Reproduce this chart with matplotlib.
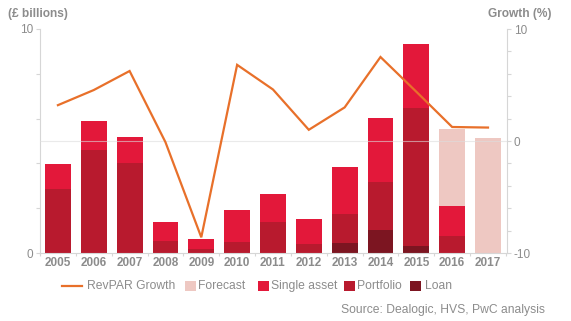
import matplotlib
matplotlib.use("Agg")
import matplotlib.pyplot as plt
from matplotlib.patches import Rectangle
from matplotlib.lines import Line2D
import numpy as np

plt.rcParams['font.family'] = ['Liberation Sans', 'DejaVu Sans']

years = ["2005", "2006", "2007", "2008", "2009", "2010", "2011", "2012",
         "2013", "2014", "2015", "2016", "2017"]
loan = [0.0, 0.0, 0.0, 0.0, 0.0, 0.0, 0.0, 0.0, 0.45, 1.03, 0.31, 0.0, 0.0]
portfolio = [2.86, 4.6, 4.02, 0.54, 0.18, 0.49, 1.38, 0.4, 1.29, 2.14, 6.16, 0.76, 0.0]
single_asset = [1.11, 1.3, 1.16, 0.84, 0.45, 1.43, 1.25, 1.12, 2.1, 2.86, 2.86, 1.34, 0.0]
forecast = [0, 0, 0, 0, 0, 0, 0, 0, 0, 0, 0, 5.54, 5.13]
revpar_growth = [3.2, 4.55, 6.25, -0.1, -8.6, 6.8, 4.6, 1.0, 3.0, 7.5, 4.4, 1.25, 1.2]

C_SINGLE = "#E3183A"
C_PORT = "#B81A2E"
C_LOAN = "#7C1521"
C_FORE = "#EEC8C2"
C_LINE = "#E8702A"
C_TEXT = "#8C8C8C"
C_AXIS = "#D6D6D6"

W, H = 571, 321
fig = plt.figure(figsize=(W / 100, H / 100), dpi=100)
ax = fig.add_axes([40 / W, 1 - 253 / H, (507 - 40) / W, (253 - 29) / H])
ax2 = ax.twinx()

x = np.arange(len(years))
bw = 0.72
loan_a = np.array(loan)
port_a = np.array(portfolio)
sing_a = np.array(single_asset)

ax.bar(x, forecast, bw, color=C_FORE, zorder=1, linewidth=0)
ax.bar(x, loan_a, bw, color=C_LOAN, zorder=2, linewidth=0)
ax.bar(x, port_a, bw, bottom=loan_a, color=C_PORT, zorder=2, linewidth=0)
ax.bar(x, sing_a, bw, bottom=loan_a + port_a, color=C_SINGLE, zorder=2, linewidth=0)

ax.set_xlim(-0.47, 12.53)
ax.set_ylim(0, 10)
ax2.set_ylim(-10, 10)

ax2.axhline(0, color="#DDDDDD", lw=0.8, alpha=0.6, zorder=1)
ax2.plot(x, revpar_growth, color=C_LINE, lw=1.6, zorder=3, solid_joinstyle="miter")

for a in (ax, ax2):
    for s in a.spines.values():
        s.set_visible(False)

ax.spines['left'].set_visible(True)
ax.spines['left'].set_color(C_AXIS)
ax.spines['left'].set_linewidth(0.8)
ax.spines['bottom'].set_visible(True)
ax.spines['bottom'].set_color(C_AXIS)
ax.spines['bottom'].set_linewidth(0.8)
ax2.spines['right'].set_visible(True)
ax2.spines['right'].set_color(C_AXIS)
ax2.spines['right'].set_linewidth(0.8)

ax.set_yticks(np.arange(0, 11, 2))
ax.set_yticklabels(["0", "", "", "", "", "10"])
ax.tick_params(axis='y', length=3, width=0.8, color=C_AXIS, labelcolor=C_TEXT,
               labelsize=8.5, pad=2)

ax2.set_yticks(np.arange(-10, 11, 2))
ax2.set_yticklabels(["-10"] + [""] * 4 + ["0"] + [""] * 4 + ["10"])
ax2.tick_params(axis='y', length=3, width=0.8, color=C_AXIS, labelcolor=C_TEXT,
                labelsize=8.5, pad=2)

ax.set_xticks(x)
ax.set_xticklabels(years, fontweight='bold')
ax.tick_params(axis='x', length=0, labelcolor=C_TEXT, labelsize=8.5, pad=3)
ax.set_xticks(np.arange(-0.5, 12.6, 1), minor=True)
ax.tick_params(axis='x', which='minor', length=2.5, width=0.8, color=C_AXIS)

fig.text(8 / W, 1 - 14 / H, "(£ billions)", color=C_TEXT, fontsize=8.6,
         fontweight='bold', ha='left', va='center')
fig.text(551 / W, 1 - 14 / H, "Growth (%)", color=C_TEXT, fontsize=8.6,
         fontweight='bold', ha='right', va='center')

# legend (drawn manually in figure pixel coordinates)
ly = 1 - 286 / H
fig.add_artist(Line2D([62 / W, 82 / W], [ly, ly], color=C_LINE, lw=1.6))
fig.text(87 / W, ly, "RevPAR Growth", color=C_TEXT, fontsize=8.7, ha='left', va='center')
items = [(185, 198, C_FORE, "Forecast"),
         (258, 271, C_SINGLE, "Single asset"),
         (344, 357, C_PORT, "Portfolio"),
         (410, 425, C_LOAN, "Loan")]
for px, tx, col, lab in items:
    fig.add_artist(Rectangle((px / W, 1 - 291 / H), 11 / W, 10.5 / H,
                             color=col, transform=fig.transFigure, linewidth=0))
    fig.text(tx / W, ly, lab, color=C_TEXT, fontsize=8.7, ha='left', va='center')

fig.text(545 / W, 1 - 310 / H, "Source: Dealogic, HVS, PwC analysis", color=C_TEXT,
         fontsize=8.7, ha='right', va='center')

fig.savefig("out.png", dpi=100)
